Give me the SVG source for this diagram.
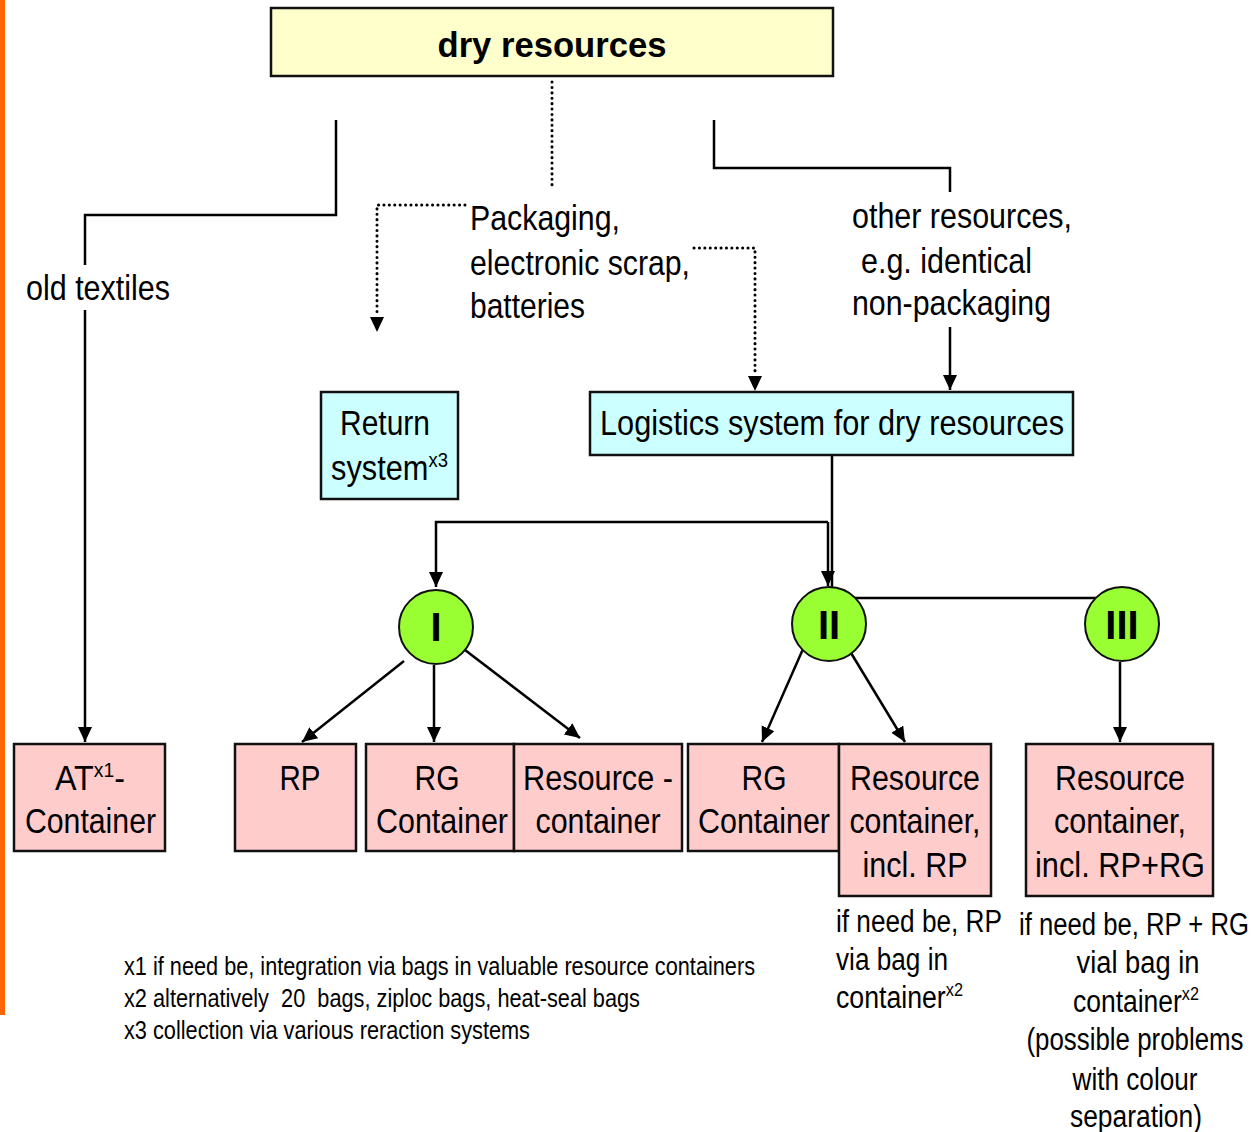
<svg xmlns="http://www.w3.org/2000/svg" width="1258" height="1132" viewBox="0 0 1258 1132">
<style>
text{font-family:"Liberation Sans Narrow","Arial Narrow","Liberation Sans",Arial,sans-serif;fill:#000}
.t{font-size:35px}
.s{font-size:31px}
.f{font-size:26px;white-space:pre}
.sup{font-size:21px}
.b{font-weight:bold;font-family:"Liberation Sans",Arial,sans-serif}
.c{text-anchor:middle}
.box{stroke:#111;stroke-width:2.5}
.y{fill:#FFFFCC}.cy{fill:#CCFFFF}.p{fill:#FFCCCC}
.circ{fill:#99FF33;stroke:#111;stroke-width:2}
.ln{fill:none;stroke:#000;stroke-width:2.5}
.dt{fill:none;stroke:#000;stroke-width:3;stroke-dasharray:0.1 5.3;stroke-linecap:round}
</style>
<defs>
<marker id="ah" markerUnits="userSpaceOnUse" markerWidth="16" markerHeight="18" refX="15" refY="7" orient="auto">
<path d="M0,0 L15,7 L0,14 Z" fill="#000"/>
</marker>
</defs>
<rect x="0" y="0" width="5" height="1015" fill="#FF6600"/>

<g id="connectors">
<path class="ln" d="M336,120 V215 H85 V265"/>
<path class="ln" d="M85,310 V742" marker-end="url(#ah)"/>
<path class="dt" d="M552,82 V190"/>
<path class="dt" d="M465,205 H377 V316"/>
<path d="M370,317 L384,317 L377,332 Z" fill="#000"/>
<path class="dt" d="M694,248 H755 V374"/>
<path d="M748,376 L762,376 L755,391 Z" fill="#000"/>
<path class="ln" d="M714,120 V168 H950 V192"/>
<path class="ln" d="M950,327 V390" marker-end="url(#ah)"/>
<path class="ln" d="M832,455 V598 H1096"/>
<path class="ln" d="M828,522 H436 V587" marker-end="url(#ah)"/>
<path class="ln" d="M828,522 V586" marker-end="url(#ah)"/>
<path class="ln" d="M404,661 L302,742" marker-end="url(#ah)"/>
<path class="ln" d="M434,665 V742" marker-end="url(#ah)"/>
<path class="ln" d="M465,650 L580,738" marker-end="url(#ah)"/>
<path class="ln" d="M803,649 L762,742" marker-end="url(#ah)"/>
<path class="ln" d="M848,648 L905,742" marker-end="url(#ah)"/>
<path class="ln" d="M1120,662 V742" marker-end="url(#ah)"/>
</g>

<g id="dry-resources">
<rect class="box y" x="271" y="8" width="562" height="68"/>
<text class="b c" x="552" y="57" font-size="35" textLength="229" lengthAdjust="spacingAndGlyphs">dry resources</text>
</g>

<g id="label-old-textiles">
<text class="t" x="26" y="300" textLength="144" lengthAdjust="spacingAndGlyphs">old textiles</text>
</g>

<g id="label-packaging">
<text class="t" x="470" y="230" textLength="150" lengthAdjust="spacingAndGlyphs">Packaging,</text>
<text class="t" x="470" y="275" textLength="220" lengthAdjust="spacingAndGlyphs">electronic scrap,</text>
<text class="t" x="470" y="318" textLength="115" lengthAdjust="spacingAndGlyphs">batteries</text>
</g>

<g id="label-other">
<text class="t" x="852" y="228" textLength="220" lengthAdjust="spacingAndGlyphs">other resources,</text>
<text class="t" x="861" y="273" textLength="171" lengthAdjust="spacingAndGlyphs">e.g. identical</text>
<text class="t" x="852" y="315" textLength="199" lengthAdjust="spacingAndGlyphs">non-packaging</text>
</g>

<g id="return-system">
<rect class="box cy" x="321" y="392" width="137" height="107"/>
<text class="t" x="340" y="435" textLength="90" lengthAdjust="spacingAndGlyphs">Return</text>
<text class="t" x="331" y="480" textLength="117" lengthAdjust="spacingAndGlyphs">system<tspan class="sup" dy="-13">x3</tspan></text>
</g>

<g id="logistics">
<rect class="box cy" x="590" y="392" width="483" height="63"/>
<text class="t" x="600" y="435" textLength="464" lengthAdjust="spacingAndGlyphs">Logistics system for dry resources</text>
</g>

<g id="circle-I">
<circle class="circ" cx="436" cy="627" r="37"/>
<text class="b c" x="436" y="641" font-size="40">I</text>
</g>
<g id="circle-II">
<circle class="circ" cx="829" cy="624" r="37"/>
<text class="b c" x="829" y="639" font-size="40">II</text>
</g>
<g id="circle-III">
<circle class="circ" cx="1122" cy="624" r="37"/>
<text class="b c" x="1122" y="639" font-size="40">III</text>
</g>

<g id="at-container">
<rect class="box p" x="14" y="744" width="151" height="107"/>
<text class="t" x="55" y="790" textLength="70" lengthAdjust="spacingAndGlyphs">AT<tspan class="sup" dy="-13">x1</tspan><tspan dy="13">-</tspan></text>
<text class="t" x="25" y="833" textLength="131" lengthAdjust="spacingAndGlyphs">Container</text>
</g>

<g id="rp">
<rect class="box p" x="235" y="744" width="121" height="107"/>
<text class="t c" x="300" y="790" textLength="41" lengthAdjust="spacingAndGlyphs">RP</text>
</g>

<g id="rg-container-1">
<rect class="box p" x="366" y="744" width="148" height="107"/>
<text class="t c" x="437" y="790" textLength="45" lengthAdjust="spacingAndGlyphs">RG</text>
<text class="t c" x="442" y="833" textLength="132" lengthAdjust="spacingAndGlyphs">Container</text>
</g>

<g id="resource-container-1">
<rect class="box p" x="514" y="744" width="168" height="107"/>
<text class="t c" x="598" y="790" textLength="150" lengthAdjust="spacingAndGlyphs">Resource -</text>
<text class="t c" x="598" y="833" textLength="125" lengthAdjust="spacingAndGlyphs">container</text>
</g>

<g id="rg-container-2">
<rect class="box p" x="688" y="744" width="151" height="107"/>
<text class="t c" x="764" y="790" textLength="45" lengthAdjust="spacingAndGlyphs">RG</text>
<text class="t c" x="764" y="833" textLength="132" lengthAdjust="spacingAndGlyphs">Container</text>
</g>

<g id="resource-container-rp">
<rect class="box p" x="839" y="744" width="152" height="152"/>
<text class="t c" x="915" y="790" textLength="130" lengthAdjust="spacingAndGlyphs">Resource</text>
<text class="t c" x="915" y="833" textLength="131" lengthAdjust="spacingAndGlyphs">container,</text>
<text class="t c" x="915" y="877" textLength="105" lengthAdjust="spacingAndGlyphs">incl. RP</text>
</g>

<g id="resource-container-rprg">
<rect class="box p" x="1026" y="744" width="187" height="152"/>
<text class="t c" x="1120" y="790" textLength="130" lengthAdjust="spacingAndGlyphs">Resource</text>
<text class="t c" x="1120" y="833" textLength="132" lengthAdjust="spacingAndGlyphs">container,</text>
<text class="t c" x="1120" y="877" textLength="170" lengthAdjust="spacingAndGlyphs">incl. RP+RG</text>
</g>

<g id="note-rp">
<text class="s" x="836" y="932" textLength="166" lengthAdjust="spacingAndGlyphs">if need be, RP</text>
<text class="s" x="836" y="970" textLength="112" lengthAdjust="spacingAndGlyphs">via bag in</text>
<text class="s" x="836" y="1008" textLength="127" lengthAdjust="spacingAndGlyphs">container<tspan font-size="19" dy="-12">x2</tspan></text>
</g>

<g id="note-rprg">
<text class="s c" x="1134" y="935" textLength="230" lengthAdjust="spacingAndGlyphs">if need be, RP + RG</text>
<text class="s c" x="1138" y="973" textLength="123" lengthAdjust="spacingAndGlyphs">vial bag in</text>
<text class="s" x="1073" y="1012" textLength="126" lengthAdjust="spacingAndGlyphs">container<tspan font-size="19" dy="-12">x2</tspan></text>
<text class="s c" x="1135" y="1050" textLength="217" lengthAdjust="spacingAndGlyphs">(possible problems</text>
<text class="s c" x="1135" y="1090" textLength="125" lengthAdjust="spacingAndGlyphs">with colour</text>
<text class="s c" x="1136" y="1127" textLength="132" lengthAdjust="spacingAndGlyphs">separation)</text>
</g>

<g id="footnotes">
<text class="f" x="124" y="975" textLength="631" lengthAdjust="spacingAndGlyphs">x1 if need be, integration via bags in valuable resource containers</text>
<text class="f" x="124" y="1007" textLength="516" lengthAdjust="spacingAndGlyphs" xml:space="preserve">x2 alternatively  20  bags, ziploc bags, heat-seal bags</text>
<text class="f" x="124" y="1039" textLength="406" lengthAdjust="spacingAndGlyphs">x3 collection via various reraction systems</text>
</g>
</svg>
